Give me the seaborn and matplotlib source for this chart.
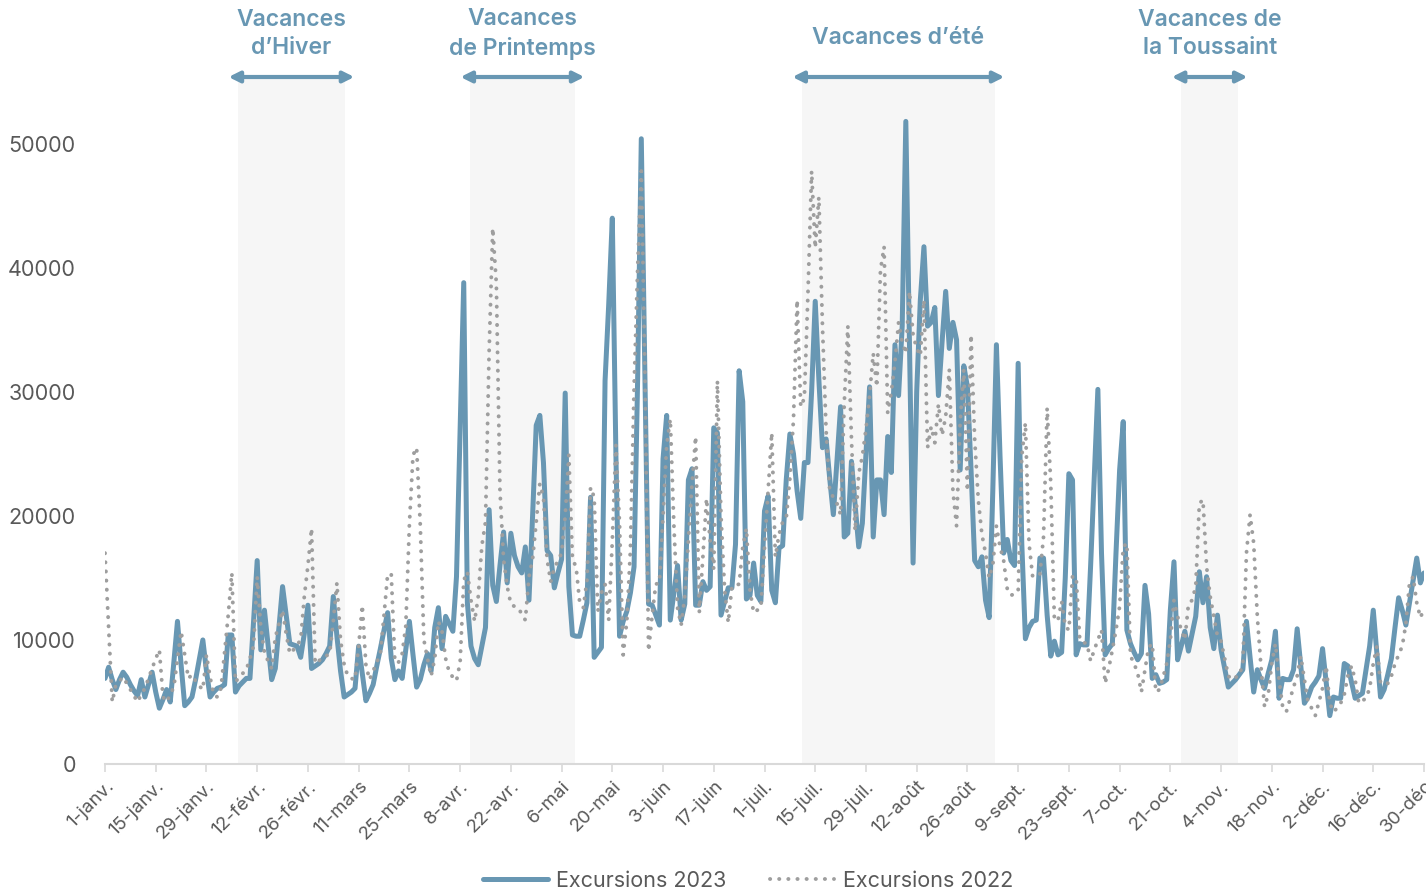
import matplotlib
matplotlib.use('Agg')
import matplotlib.pyplot as plt
import matplotlib.transforms as mtransforms
import pandas as pd
import seaborn as sns

# Tick labels every 14 days
tick_labels = ['1-janv.', '15-janv.', '29-janv.', '12-févr.', '26-févr.', '11-mars', '25-mars',
               '8-avr.', '22-avr.', '6-mai', '20-mai', '3-juin', '17-juin', '1-juil.', '15-juil.',
               '29-juil.', '12-août', '26-août', '9-sept.', '23-sept.', '7-oct.', '21-oct.',
               '4-nov.', '18-nov.', '2-déc.', '16-déc.', '30-déc']

# School holidays (day index of start / end)
holiday_names = ['Vacances\nd’Hiver', 'Vacances\nde Printemps', 'Vacances d’été', 'Vacances de\nla Toussaint']
holiday_start = [36.7, 100.7, 192.3, 297.0]
holiday_end = [66.2, 129.7, 245.6, 312.7]

excursions_2023 = [
    6900, 7800, 6800, 6000, 6800, 7400, 7000, 6400, 5900, 5500, 6800, 5400, 6400, 7400,
    5800, 4500, 5200, 6000, 5000, 8200, 11500, 8000, 4700, 5000, 5400, 6800, 8400, 10000,
    7500, 5400, 5800, 6100, 6200, 6400, 10400, 10400, 5800, 6300, 6600, 6900, 6900, 11500,
    16400, 9200, 12400, 9600, 6800, 7700, 11000, 14300, 12000, 9700, 9600, 9500, 8600, 10500,
    12800, 7700, 7900, 8100, 8400, 8900, 9500, 13500, 10300, 7500, 5400, 5600, 5800, 6100,
    9500, 7300, 5100, 5700, 6400, 7900, 9300, 10800, 12200, 8500, 6800, 7500, 6900, 9200,
    11500, 8800, 6200, 6800, 8000, 8900, 7500, 11000, 12600, 9300, 11900, 11300, 10700, 15100,
    27000, 38800, 13000, 9500, 8500, 8000, 9500, 11000, 20500, 14400, 13100, 16000, 18700, 14600,
    18600, 16800, 15900, 15400, 17500, 13200, 20000, 27300, 28100, 24300, 17200, 16800, 14200, 15400,
    16500, 29900, 14300, 10400, 10300, 10300, 11600, 13000, 21500, 8600, 9000, 9400, 30900, 37000,
    44000, 24800, 10300, 11500, 12300, 13800, 15900, 31200, 50400, 31200, 12900, 12800, 12000, 11200,
    24600, 28100, 11600, 13800, 16000, 11600, 12900, 22900, 23800, 12800, 12800, 14700, 14000, 14300,
    27100, 26700, 12000, 13100, 14200, 14200, 17700, 31700, 29200, 13300, 13600, 16200, 13600, 13100,
    20400, 21600, 14000, 13000, 17400, 17600, 22900, 26600, 25000, 22000, 19800, 24300, 24300, 30000,
    37300, 31000, 25500, 26200, 23000, 20100, 24500, 28800, 18300, 18600, 24400, 21000, 17500, 19400,
    25000, 30400, 18300, 22900, 22900, 20100, 26400, 23500, 33800, 29700, 35300, 51800, 34000, 16200,
    30000, 37400, 41700, 35300, 35600, 36800, 29700, 34000, 38100, 33500, 35600, 34200, 23700, 32100,
    30400, 23700, 16400, 15900, 16700, 13200, 11800, 22000, 33800, 24800, 17000, 18100, 16400, 16000,
    32300, 17800, 10100, 11000, 11500, 11600, 16600, 16600, 12000, 8700, 9900, 8800, 9000, 15000,
    23400, 22900, 8800, 9700, 9600, 9600, 16000, 23000, 30200, 17000, 8800, 9300, 9700, 17000,
    23700, 27600, 10800, 9700, 9000, 8400, 8900, 14400, 12100, 6900, 7200, 6500, 6600, 6800,
    12400, 16300, 8400, 9500, 10700, 9100, 10500, 11900, 15500, 13000, 15100, 11000, 9300, 12000,
    9200, 7700, 6200, 6500, 6800, 7200, 7600, 11500, 8600, 5800, 7600, 6800, 6100, 7300,
    8400, 10700, 5300, 6900, 6800, 6800, 7600, 10900, 7900, 4900, 5400, 6200, 6600, 7100,
    9300, 6600, 3900, 5400, 5300, 5300, 8100, 7900, 6600, 5300, 5500, 5700, 7600, 9500,
    12400, 8900, 5400, 6000, 7200, 8500, 11000, 13400, 12400, 11200, 13000, 14800, 16600, 14600,
    15400,
]

excursions_2022 = [
    17000, 11000, 5000, 6400, 6700, 7000, 6500, 6000, 5500, 5000, 5600, 6100, 6900, 7700,
    8500, 9200, 5400, 5000, 5600, 6200, 8500, 10700, 8800, 6900, 7200, 6700, 6300, 6000,
    8800, 7000, 5600, 5400, 6100, 9000, 12000, 15400, 6600, 7000, 7300, 7600, 8500, 9500,
    15100, 11000, 9000, 8300, 7700, 10200, 11300, 12400, 10500, 8900, 9200, 9600, 10000, 13500,
    16000, 19000, 8100, 8300, 8600, 8700, 8900, 11500, 14600, 10000, 8000, 7100, 6900, 6800,
    9500, 12800, 8000, 6800, 7500, 8200, 8900, 12000, 15300, 15300, 8200, 8200, 8900, 11100,
    19300, 24900, 25500, 19300, 10000, 8500, 7100, 8500, 11500, 10700, 8500, 7400, 7000, 6700,
    8200, 14800, 15500, 13200, 11500, 13500, 17600, 19500, 33200, 43200, 38700, 22000, 16500, 14300,
    12900, 12700, 12600, 12100, 11600, 15100, 16500, 19500, 22600, 21500, 16500, 14700, 15800, 16400,
    17000, 20000, 24900, 16500, 15900, 13000, 12600, 14800, 22300, 21500, 12300, 13800, 14500, 11600,
    18000, 25700, 19300, 8800, 11500, 17300, 30300, 40000, 47800, 31600, 9100, 12000, 14500, 14600,
    20000, 25700, 27800, 19200, 12600, 11200, 13500, 18000, 22600, 26400, 12200, 16700, 21400, 18000,
    15700, 30900, 20000, 14000, 11400, 14300, 14400, 14500, 17500, 19000, 14000, 12200, 12400, 12600,
    17400, 22000, 26700, 16700, 18500, 19500, 19800, 23000, 27800, 37400, 28800, 29500, 38000, 47800,
    41600, 45700, 35300, 26900, 22000, 21500, 21000, 20100, 29000, 35300, 26200, 18800, 23400, 24800,
    27000, 29700, 33100, 30400, 39800, 41700, 28300, 30000, 32400, 35600, 34000, 33100, 38100, 34600,
    33500, 32900, 37400, 25500, 27200, 25900, 29000, 26500, 28000, 31800, 22000, 19200, 27600, 31800,
    22000, 34600, 26200, 21300, 18500, 17000, 15000, 16000, 19200, 17500, 16400, 14100, 13600, 13700,
    13900, 24800, 27500, 17800, 15100, 15200, 15300, 18300, 28700, 22600, 11600, 11600, 13100, 11100,
    10800, 15100, 15100, 10000, 9800, 9700, 8300, 9200, 10000, 10800, 6500, 7700, 9200, 10800,
    12700, 17500, 17800, 8700, 8100, 7300, 5800, 7600, 9400, 9700, 5800, 6000, 7000, 8100,
    10000, 13200, 11900, 10800, 10000, 12900, 13200, 14300, 21000, 21300, 15900, 13500, 11900, 10300,
    9900, 8500, 7100, 6800, 7000, 7100, 8100, 17000, 20100, 17800, 11900, 7900, 4600, 5600,
    8100, 9700, 6800, 4600, 4200, 5200, 6200, 7100, 8700, 6800, 5000, 4500, 3900, 5000,
    6100, 7900, 4900, 4200, 4500, 4900, 5600, 7100, 7900, 6800, 4900, 5100, 5300, 6100,
    8100, 9500, 6500, 6500, 6500, 7100, 8100, 8800, 9500, 11300, 14600, 15100, 13000, 11800,
    12500,
]

df = pd.DataFrame({
    'jour': range(len(excursions_2023)),
    'Excursions 2023': excursions_2023,
    'Excursions 2022': excursions_2022,
})

blue = '#6897B3'
grey = '#9E9E9E'
text_grey = '#595959'

sns.set_theme(style='white')
plt.rcParams['font.family'] = ['Inter', 'DejaVu Sans']

fig = plt.figure(figsize=(14.26, 8.93), dpi=100)
ax = fig.add_axes([105 / 1426, 1 - 764 / 893, 1319 / 1426, 686 / 893])

# Shaded holiday periods
for start, end in zip(holiday_start, holiday_end):
    ax.axvspan(start, end, color='#F6F6F6', lw=0, zorder=0)

sns.lineplot(data=df, x='jour', y='Excursions 2023', ax=ax, color=blue, linewidth=3.6,
             label='Excursions 2023', zorder=2)
sns.lineplot(data=df, x='jour', y='Excursions 2022', ax=ax, color=grey, linewidth=2.8,
             linestyle=(0, (0.05, 2.3)), dash_capstyle='round', label='Excursions 2022', zorder=3)

ax.set_xlim(0, 364)
ax.set_ylim(0, 55300)
ax.set_xlabel('')
ax.set_ylabel('')

ax.set_xticks(range(0, 365, 14))
ax.set_xticklabels(tick_labels, rotation=45, ha='right', rotation_mode='anchor',
                   fontsize=13.5, color=text_grey)
ax.set_yticks(range(0, 50001, 10000))
ax.set_yticklabels([str(v) for v in range(0, 50001, 10000)], fontsize=15.5, color=text_grey)
ax.tick_params(axis='x', bottom=True, length=6, width=1.2, color='#D9D9D9', pad=4)
ax.tick_params(axis='y', left=False, pad=15)

for side in ['left', 'right', 'top']:
    ax.spines[side].set_visible(False)
ax.spines['bottom'].set_color('#D9D9D9')
ax.spines['bottom'].set_linewidth(1.5)

# Holiday arrows and labels
trans = mtransforms.blended_transform_factory(ax.transData, fig.transFigure)
for name, start, end in zip(holiday_names, holiday_start, holiday_end):
    ax.annotate('', xy=(end + 2.6, 1 - 77 / 893), xytext=(start - 2.6, 1 - 77 / 893),
                xycoords=trans, textcoords=trans, annotation_clip=False,
                arrowprops=dict(arrowstyle='<|-|>', color=blue, lw=3, mutation_scale=16,
                                shrinkA=0, shrinkB=0))
    text_y = 1 - 34 / 893 if '\n' in name else 1 - 38 / 893
    ax.text((start + end) / 2, text_y, name, transform=trans, ha='center', va='center',
            fontsize=16.5, fontweight='semibold', color=blue, linespacing=1.4)

leg = ax.legend(loc='center', bbox_to_anchor=(748 / 1426, 1 - 881 / 893),
                bbox_transform=fig.transFigure, ncol=2, frameon=False, fontsize=15.5,
                handlelength=3.0, columnspacing=2.0, handletextpad=0.4)
for t in leg.get_texts():
    t.set_color(text_grey)

fig.savefig('out.png', dpi=100)
